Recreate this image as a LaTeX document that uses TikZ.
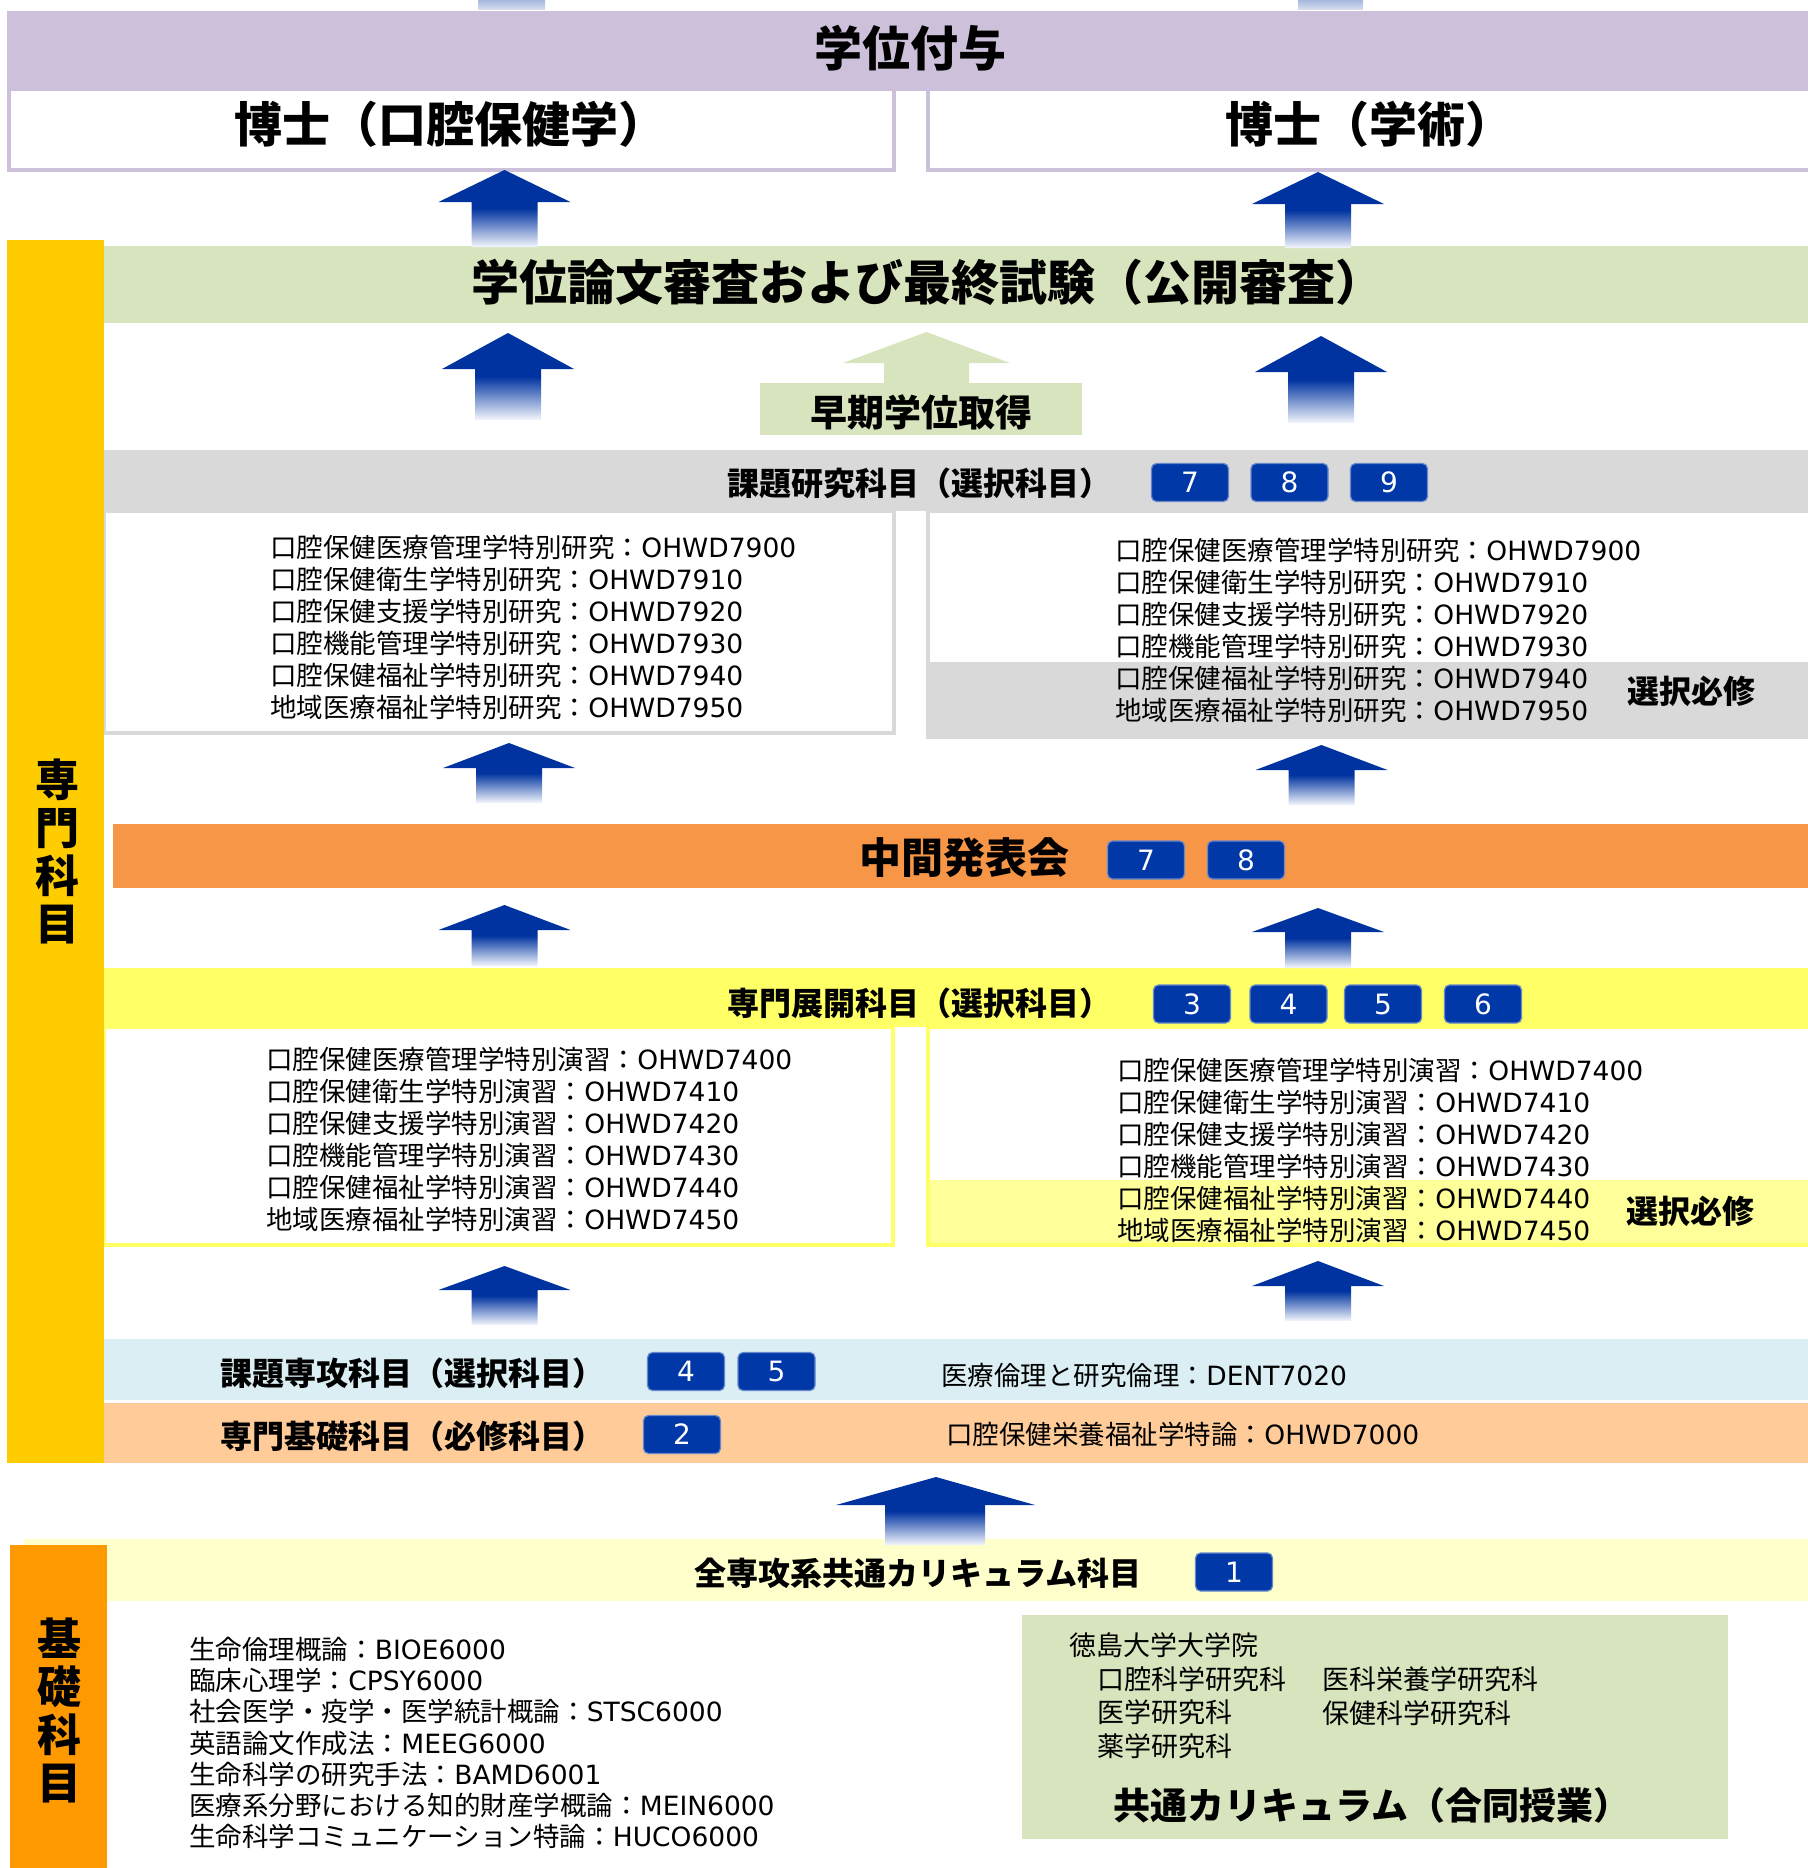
\documentclass[tikz,border=0pt]{standalone}
\usepackage{fontspec}
\setmainfont{Noto Sans CJK JP}
\newfontfamily\enfont{DejaVu Sans}
\newcommand\en[1]{{\enfont #1}}
\usepackage{xcolor}
\usetikzlibrary{fit}

\definecolor{gradeband}{HTML}{CCC0DA}
\definecolor{examgreen}{HTML}{D7E4BD}
\definecolor{senmonbar}{HTML}{FFCC00}
\definecolor{kisobar}{HTML}{FF9900}
\definecolor{resgray}{HTML}{D9D9D9}
\definecolor{midorange}{HTML}{F79646}
\definecolor{tenkai}{HTML}{FFFF66}
\definecolor{tenkailight}{HTML}{FFFF99}
\definecolor{senkou}{HTML}{DAEEF3}
\definecolor{kiso}{HTML}{FFCC99}
\definecolor{common}{HTML}{FFFFCC}
\definecolor{badge}{HTML}{0038A8}
\definecolor{arblue}{HTML}{0033A0}
\definecolor{arfade}{HTML}{F4F7FD}

\begin{document}
\begin{tikzpicture}[
  x=0.5pt, y=-0.5pt,
  % --- styles ---
  band/.style={inner sep=0pt, outer sep=0pt},
  box/.style={inner sep=0pt, outer sep=0pt, line width=2pt, fill=white},
  head/.style={font=\bfseries\fontsize{16}{18}\selectfont, inner sep=0pt, anchor=west},
  item/.style={font=\fontsize{13.25}{16}\selectfont, inner sep=0pt, anchor=west, align=left},
  hissu/.style={font=\bfseries\fontsize{16}{18}\selectfont, inner sep=0pt},
  side/.style={font=\bfseries\fontsize{22}{24}\selectfont, align=center, inner sep=0pt},
  num/.style={
    fill=badge, draw=badge!60!white, line width=0.6pt, rounded corners=2.5pt,
    minimum width=38.5pt, minimum height=19pt, inner sep=0pt,
    text=white, font=\enfont\fontsize{14}{16}\selectfont
  },
  uparrow/.style={top color=arblue, bottom color=arfade, middle color=arblue, draw=none},
  greenarrow/.style={fill=examgreen, draw=none}
]
\useasboundingbox (0,0) rectangle (1808,1868);

% ======================================================
% Degree (top)
% ======================================================
\node[box, draw=gradeband, fit={(9,89)(894,170)}] (drOH) {};
\node[box, draw=gradeband, fit={(928,89)(1812,170)}] (drAc) {};
\node[band, fill=gradeband, fit={(7,11)(1808,91)}] (grade) {};
\shade[top color=arblue!35, bottom color=arblue!15] (478,0) rectangle (545,10);
\shade[top color=arblue!35, bottom color=arblue!15] (1298,0) rectangle (1363,10);

% ======================================================
% Thesis examination + early degree
% ======================================================
\node[band, fill=examgreen, fit={(104,246)(1808,323)}] (exam) {};
\node[band, fill=examgreen, fit={(760,383)(1082,435)}] (early) {};
\path[greenarrow] (926.5,332) -- (1010,363) -- (969,363) -- (969,384)
  -- (884,384) -- (884,363) -- (843,363) -- cycle;

% ======================================================
% Research subjects
% ======================================================
\node[box, draw=resgray, fit={(104,511)(894,733)}] (resL) {};
\node[box, draw=resgray, fit={(928,511)(1812,737)}] (resR) {};
\node[band, fill=resgray, fit={(926,662)(1808,739)}] (resSel) {};
\node[band, fill=resgray, fit={(104,450)(1808,511)}] (research) {};

% ======================================================
% Interim presentation
% ======================================================
\node[band, fill=midorange, fit={(113,824)(1808,888)}] (interim) {};

% ======================================================
% Advanced subjects
% ======================================================
\node[box, draw=tenkai, fit={(104,1027)(893,1245)}] (advL) {};
\node[box, draw=tenkai, fit={(928,1027)(1812,1245)}] (advR) {};
\node[band, fill=tenkailight, fit={(930,1180)(1808,1243)}] (advSel) {};
\node[band, fill=tenkai, fit={(104,968)(1808,1027)}] (advanced) {};

% ======================================================
% Major / basic subjects
% ======================================================
\node[band, fill=senkou, fit={(104,1339)(1808,1400)}] (major) {};
\node[band, fill=kiso, fit={(104,1403)(1808,1463)}] (basic) {};
\node[band, fill=senmonbar, fit={(7,240)(104,1463)}] (senbar) {};

% ======================================================
% Common curriculum
% ======================================================
\node[band, fill=common, fit={(24,1539)(1808,1601)}] (common) {};
\node[band, fill=kisobar, fit={(10,1545)(107,1868)}] (kisobar) {};
\node[band, fill=examgreen, fit={(1022,1615)(1728,1839)}] (joint) {};

% ======================================================
% Block arrows (upward)
% ======================================================
\foreach \cx/\tip/\base/\bot in {504.5/170/202/247, 1318/172/204/248,
    508/333/369/420, 1321/336/372/423, 509/743/768/803, 1321.5/745/770/805,
    504.5/905/930/966, 1318/908/932/968, 504.5/1266/1290/1325, 1318/1261/1286/1321}
  \path[uparrow] (\cx,\tip) -- (\cx+66,\base) -- (\cx+33,\base) -- (\cx+33,\bot)
    -- (\cx-33,\bot) -- (\cx-33,\base) -- (\cx-66,\base) -- cycle;
\path[uparrow] (936,1477) -- (1035,1505) -- (985,1505) -- (985,1545)
  -- (885,1545) -- (885,1505) -- (836,1505) -- cycle;

% ======================================================
% Texts
% ======================================================
\node[font=\bfseries\fontsize{24}{26}\selectfont, inner sep=0pt] (tGrade) at (910,48) {学位付与};
\node[font=\bfseries\fontsize{24}{26}\selectfont, inner sep=0pt, anchor=west] (tOH) at (234,124) {博士（口腔保健学）};
\node[font=\bfseries\fontsize{24}{26}\selectfont, inner sep=0pt, anchor=west] (tAc) at (1225,124) {博士（学術）};
\node[font=\bfseries\fontsize{24}{26}\selectfont, inner sep=0pt, anchor=west] (tExam) at (471,282)
  {学位論文審査および最終試験（公開審査）};
\node[font=\bfseries\fontsize{18.5}{20}\selectfont, inner sep=0pt] (tEarly) at (921,412) {早期学位取得};

\node[side] (tSenmon) at (57,851) {専\\門\\科\\目};
\node[side] (tKiso) at (59,1710) {基\\礎\\科\\目};

% research
\node[head] (tRes) at (727,483) {課題研究科目（選択科目）};
\foreach \n/\x in {7/1190, 8/1289.5, 9/1389}
  \node[num] (res\n) at (\x,482.5) {\n};
\node[item] (resListL) at (270,627) {%
  口腔保健医療管理学特別研究：\en{OHWD7900}\\
  口腔保健衛生学特別研究：\en{OHWD7910}\\
  口腔保健支援学特別研究：\en{OHWD7920}\\
  口腔機能管理学特別研究：\en{OHWD7930}\\
  口腔保健福祉学特別研究：\en{OHWD7940}\\
  地域医療福祉学特別研究：\en{OHWD7950}};
\node[item] (resListR) at (1115,630) {%
  口腔保健医療管理学特別研究：\en{OHWD7900}\\
  口腔保健衛生学特別研究：\en{OHWD7910}\\
  口腔保健支援学特別研究：\en{OHWD7920}\\
  口腔機能管理学特別研究：\en{OHWD7930}\\
  口腔保健福祉学特別研究：\en{OHWD7940}\\
  地域医療福祉学特別研究：\en{OHWD7950}};
\node[hissu] (resHissu) at (1691,691) {選択必修};

% interim
\node[font=\bfseries\fontsize{21}{23}\selectfont, inner sep=0pt, anchor=west] (tMid) at (859,858) {中間発表会};
\foreach \n/\x in {7/1146, 8/1246}
  \node[num] (mid\n) at (\x,860) {\n};

% advanced
\node[head] (tAdv) at (727,1003) {専門展開科目（選択科目）};
\foreach \n/\x in {3/1192, 4/1288.5, 5/1383, 6/1483}
  \node[num] (adv\n) at (\x,1004) {\n};
\node[item] (advListL) at (266,1139.5) {%
  口腔保健医療管理学特別演習：\en{OHWD7400}\\
  口腔保健衛生学特別演習：\en{OHWD7410}\\
  口腔保健支援学特別演習：\en{OHWD7420}\\
  口腔機能管理学特別演習：\en{OHWD7430}\\
  口腔保健福祉学特別演習：\en{OHWD7440}\\
  地域医療福祉学特別演習：\en{OHWD7450}};
\node[item] (advListR) at (1117,1150) {%
  口腔保健医療管理学特別演習：\en{OHWD7400}\\
  口腔保健衛生学特別演習：\en{OHWD7410}\\
  口腔保健支援学特別演習：\en{OHWD7420}\\
  口腔機能管理学特別演習：\en{OHWD7430}\\
  口腔保健福祉学特別演習：\en{OHWD7440}\\
  地域医療福祉学特別演習：\en{OHWD7450}};
\node[hissu] (advHissu) at (1690,1211) {選択必修};

% major / basic
\node[head] (tMajor) at (220,1373) {課題専攻科目（選択科目）};
\foreach \n/\x in {4/686, 5/776.5}
  \node[num] (maj\n) at (\x,1371.5) {\n};
\node[item] (tEthics) at (941,1375) {医療倫理と研究倫理：\en{DENT7020}};
\node[head] (tBasic) at (220,1436) {専門基礎科目（必修科目）};
\node[num] (bas2) at (682,1434.5) {2};
\node[item] (tNutri) at (946,1434) {口腔保健栄養福祉学特論：\en{OHWD7000}};

% common curriculum
\node[head] (tCommon) at (694,1573) {全専攻系共通カリキュラム科目};
\node[num] (com1) at (1234,1572) {1};
\node[item, font=\fontsize{13.25}{15.65}\selectfont] (comList) at (189,1743) {%
  生命倫理概論：\en{BIOE6000}\\
  臨床心理学：\en{CPSY6000}\\
  社会医学・疫学・医学統計概論：\en{STSC6000}\\
  英語論文作成法：\en{MEEG6000}\\
  生命科学の研究手法：\en{BAMD6001}\\
  医療系分野における知的財産学概論：\en{MEIN6000}\\
  生命科学コミュニケーション特論：\en{HUCO6000}};

\node[item, font=\fontsize{13.5}{16.85}\selectfont] (tUniv) at (1069,1645) {徳島大学大学院};
\node[item, font=\fontsize{13.5}{16.85}\selectfont] (tSchoolA) at (1097,1712.5) {口腔科学研究科\\医学研究科\\薬学研究科};
\node[item, font=\fontsize{13.5}{16.85}\selectfont] (tSchoolB) at (1322,1696) {医科栄養学研究科\\保健科学研究科};
\node[font=\bfseries\fontsize{18.5}{20}\selectfont, inner sep=0pt, anchor=west] (tJoint) at (1113,1805)
  {共通カリキュラム（合同授業）};

\end{tikzpicture}
\end{document}
